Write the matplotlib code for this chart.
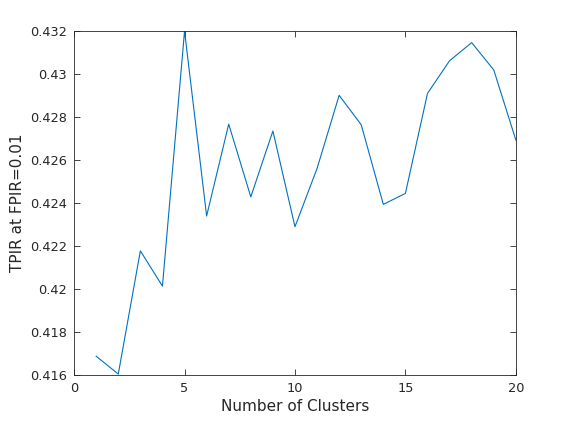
import matplotlib
matplotlib.use('Agg')
import matplotlib.pyplot as plt
from matplotlib.ticker import FuncFormatter

clusters = list(range(1, 21))
tpir = [0.41688, 0.41605, 0.42178, 0.42014, 0.43200, 0.42340, 0.42767, 0.42429,
        0.42735, 0.42290, 0.42561, 0.42901, 0.42764, 0.42394, 0.42445, 0.42910,
        0.43062, 0.43146, 0.43019, 0.42693]

x_ticks = [0, 5, 10, 15, 20]
y_ticks = [0.416, 0.418, 0.420, 0.422, 0.424, 0.426, 0.428, 0.430, 0.432]

ax_color = '#262626'

fig = plt.figure(figsize=(5.7, 4.22), dpi=100)
ax = fig.add_axes([0.13, 0.111, 0.775, 0.8155])
ax.plot(clusters, tpir, color='#0072BD', linewidth=0.8)

ax.set_xlim(0, 20)
ax.set_ylim(0.416, 0.432)
ax.set_xticks(x_ticks)
ax.set_yticks(y_ticks)
ax.yaxis.set_major_formatter(FuncFormatter(lambda v, p: '%g' % round(v, 4)))
ax.tick_params(direction='in', top=True, right=True, length=4, width=0.6,
               colors=ax_color, labelsize=9.3, pad=5)
for s in ax.spines.values():
    s.set_color(ax_color)
    s.set_linewidth(0.6)

ax.set_xlabel('Number of Clusters', fontsize=11, color=ax_color, labelpad=3)
ax.set_ylabel('TPIR at FPIR=0.01', fontsize=11, color=ax_color)

fig.savefig('out.png', dpi=100)
